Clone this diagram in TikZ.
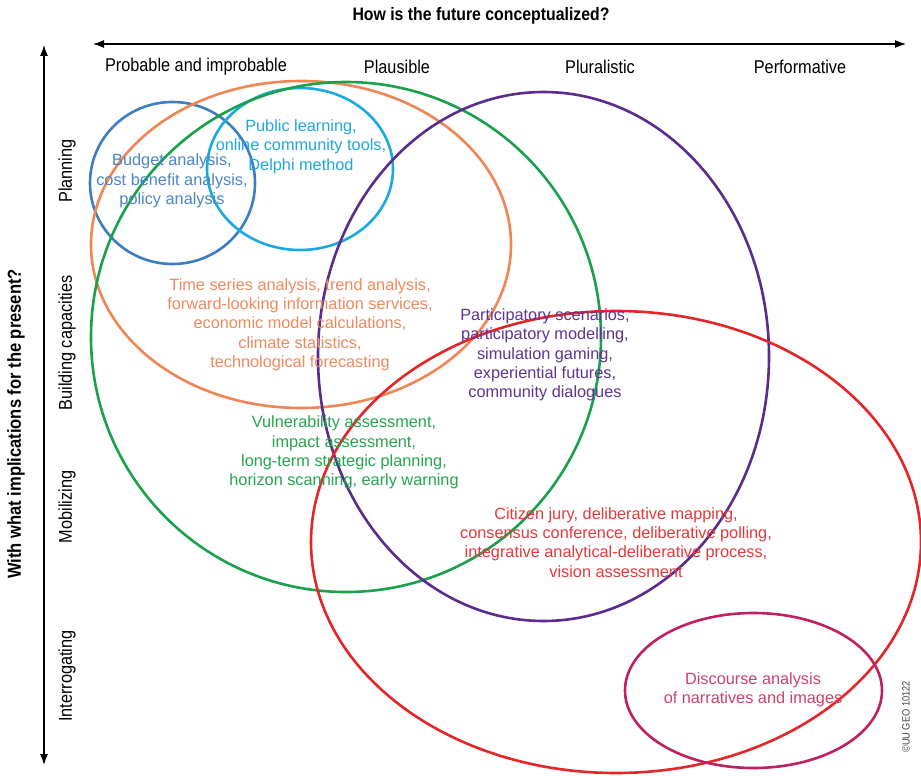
\documentclass[tikz,border=0pt]{standalone}
\usepackage{fontspec}
\setmainfont{Liberation Sans}
\newfontfamily\condf[FakeStretch=0.88]{Liberation Sans}
\usetikzlibrary{arrows.meta}
\definecolor{cblue}{HTML}{3D7DC3}
\definecolor{ccyan}{HTML}{1AA9E1}
\definecolor{corange}{HTML}{EF8653}
\definecolor{cgreen}{HTML}{1BA04B}
\definecolor{cpurple}{HTML}{5A2C8E}
\definecolor{cred}{HTML}{E52528}
\definecolor{cmag}{HTML}{BF2061}
\definecolor{tblue}{HTML}{4A86C8}
\definecolor{tcyan}{HTML}{1FA8E0}
\definecolor{torange}{HTML}{F08A5D}
\definecolor{tgreen}{HTML}{25A64E}
\definecolor{tpurple}{HTML}{5E3593}
\definecolor{tred}{HTML}{E5393A}
\definecolor{tmag}{HTML}{D0416C}
\begin{document}
\begin{tikzpicture}[x=1pt,y=-1pt,
  ring/.style={line width=2.6pt},
  lbl/.style={align=center, font=\fontsize{16.3}{19.3}\selectfont, inner sep=0pt},
  axtitle/.style={font=\condf\bfseries\fontsize{18}{20}\selectfont, inner sep=0pt},
  axlbl/.style={font=\condf\fontsize{18.5}{20}\selectfont, inner sep=0pt},
  axarrow/.style={line width=1.2pt, {Latex[length=11pt,width=8pt]}-{Latex[length=11pt,width=8pt]}}]
\useasboundingbox (0,0) rectangle (921,776);
\fill[white] (0,0) rectangle (921,776);

% axes
\coordinate (hl) at (93,44);
\coordinate (hr) at (906,44);
\coordinate (vt) at (44,45);
\coordinate (vb) at (44,765);
\draw[axarrow] (hl) -- (hr);
\draw[axarrow] (vt) -- (vb);
\node[axtitle] (htitle) at (481,16) {How is the future conceptualized?};
\node[axtitle, font=\condf\bfseries\fontsize{18.8}{20}\selectfont, rotate=90] (vtitle) at (16,424) {With what implications for the present?};

\node[axlbl] (c1) at (196,67) {Probable and improbable};
\node[axlbl] (c2) at (397,67) {Plausible};
\node[axlbl] (c3) at (600,67) {Pluralistic};
\node[axlbl] (c4) at (800,67) {Performative};

\node[axlbl, rotate=90] (r1) at (67,171) {Planning};
\node[axlbl, rotate=90] (r2) at (67,343) {Building capacities};
\node[axlbl, rotate=90] (r3) at (67,507) {Mobilizing};
\node[axlbl, rotate=90] (r4) at (67,676) {Interrogating};

% rings
\draw[ring, cblue]   (172.5,183) ellipse [x radius=82.5, y radius=81];
\draw[ring, ccyan]   (300,169)   ellipse [x radius=93, y radius=81];
\draw[ring, corange] (301,244.5) ellipse [x radius=210, y radius=163.5];
\draw[ring, cgreen]  (346,337)   ellipse [x radius=255, y radius=255];
\draw[ring, cpurple] (543.5,356.5) ellipse [x radius=225.5, y radius=264.5];
\draw[ring, cred]    (616,542)   ellipse [x radius=305, y radius=231];
\draw[ring, cmag]    (753.5,690.5) ellipse [x radius=128.5, y radius=77.5];

% texts
\node[lbl, text=tblue] (tb) at (172,181) {Budget analysis,\\cost benefit analysis,\\policy analysis};
\node[lbl, text=tcyan] (tc) at (301,146.5) {Public learning,\\online community tools,\\Delphi method};
\node[lbl, text=torange] (to) at (300,324.5) {Time series analysis, trend analysis,\\forward-looking information services,\\economic model calculations,\\climate statistics,\\technological forecasting};
\node[lbl, text=tpurple] (tp) at (545,355) {Participatory scenarios,\\participatory modelling,\\simulation gaming,\\experiential futures,\\community dialogues};
\node[lbl, text=tgreen] (tg) at (344,452.5) {Vulnerability assessment,\\impact assessment,\\long-term strategic planning,\\horizon scanning, early warning};
\node[lbl, text=tred] (tr) at (616,542.5) {Citizen jury, deliberative mapping,\\consensus conference, deliberative polling,\\integrative analytical-deliberative process,\\vision assessment};
\node[lbl, text=tmag] (tm) at (753,689.5) {Discourse analysis\\of narratives and images};

\node[font=\condf\fontsize{10.5}{11}\selectfont, rotate=90, inner sep=0pt, text=black!75] (copy) at (906,717) {\copyright UU GEO 10122};
\end{tikzpicture}
\end{document}
